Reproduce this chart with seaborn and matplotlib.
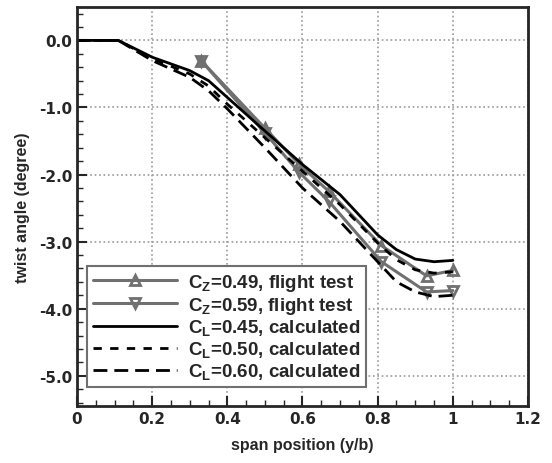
import matplotlib
matplotlib.use("Agg")
import matplotlib.pyplot as plt
from matplotlib.ticker import MultipleLocator, FormatStrFormatter
import seaborn as sns
import pandas as pd

# flight test points
x_test = [0.33, 0.5, 0.59, 0.67, 0.81, 0.93, 1.0]
cz049 = [-0.30, -1.31, -1.84, -2.25, -3.06, -3.51, -3.43]
cz059 = [-0.30, -1.38, -1.96, -2.40, -3.30, -3.75, -3.73]

# calculated curves
x_calc = [0.0, 0.11, 0.2, 0.3, 0.35, 0.4, 0.5, 0.6, 0.7, 0.8, 0.85, 0.9, 0.95, 1.0]
cl045 = [0.0, 0.0, -0.25, -0.45, -0.6, -0.85, -1.35, -1.85, -2.3, -2.9, -3.12, -3.26, -3.3, -3.28]
cl050 = [0.0, 0.0, -0.27, -0.5, -0.68, -0.95, -1.45, -1.95, -2.45, -3.02, -3.27, -3.42, -3.47, -3.45]
cl060 = [0.0, 0.0, -0.3, -0.55, -0.75, -1.02, -1.6, -2.2, -2.7, -3.3, -3.6, -3.75, -3.82, -3.8]

sns.set_style("ticks")
plt.rcParams["font.family"] = ["Liberation Sans", "DejaVu Sans"]
plt.rcParams["font.weight"] = "bold"
plt.rcParams["axes.unicode_minus"] = False
plt.rcParams["mathtext.default"] = "regular"

fig = plt.figure(figsize=(5.52, 4.64), dpi=100)
ax = fig.add_axes([0.1395, 0.123, 0.817, 0.860])

gray = "#707070"
dft = pd.DataFrame({"x": x_test, "a": cz049, "b": cz059})
dfc = pd.DataFrame({"x": x_calc, "a": cl045, "b": cl050, "c": cl060})

sns.lineplot(data=dft, x="x", y="a", ax=ax, color=gray, lw=2.2, marker="^", ms=7,
             mfc="none", mec=gray, mew=2, label="C$_Z$=0.49, flight test", sort=False)
sns.lineplot(data=dft, x="x", y="b", ax=ax, color=gray, lw=2.2, marker="v", ms=7,
             mfc="none", mec=gray, mew=2, label="C$_Z$=0.59, flight test", sort=False)
sns.lineplot(data=dfc, x="x", y="a", ax=ax, color="black", lw=2, label="C$_L$=0.45, calculated")
sns.lineplot(data=dfc, x="x", y="b", ax=ax, color="black", lw=2,
             label="C$_L$=0.50, calculated")
ax.lines[-1].set_dashes((3, 3))
sns.lineplot(data=dfc, x="x", y="c", ax=ax, color="black", lw=2,
             label="C$_L$=0.60, calculated")
ax.lines[-1].set_dashes((5, 2.5))

ax.set_xlim(0, 1.2)
ax.set_ylim(-5.45, 0.5)
ax.xaxis.set_major_locator(MultipleLocator(0.2))
ax.xaxis.set_minor_locator(MultipleLocator(0.05))
ax.yaxis.set_major_locator(MultipleLocator(1.0))
ax.yaxis.set_minor_locator(MultipleLocator(0.2))
ax.xaxis.set_major_formatter(lambda v, p: "0" if abs(v) < 1e-9 else ("1" if abs(v - 1) < 1e-9 else "%.1f" % v))
ax.yaxis.set_major_formatter(FormatStrFormatter("%.1f"))
ax.tick_params(which="major", direction="in", length=7, width=1.5, labelsize=11)
ax.tick_params(which="minor", direction="in", length=4, width=1)
for lab in ax.get_xticklabels() + ax.get_yticklabels():
    lab.set_fontweight("bold")
    lab.set_fontfamily("DejaVu Sans")

ax.grid(which="major", color="#999999", linestyle=":", linewidth=1.2)
for s in ax.spines.values():
    s.set_linewidth(2)
    s.set_visible(True)

ax.set_xlabel("span position (y/b)", fontsize=11.5, fontweight="bold", labelpad=8)
ax.set_ylabel("twist angle (degree)", fontsize=11.5, fontweight="bold", labelpad=6)

leg = ax.legend(loc="lower left", bbox_to_anchor=(0.022, 0.048), borderaxespad=0,
                fontsize=13.5, handlelength=4.5, handletextpad=0.6, frameon=True,
                fancybox=False, edgecolor=gray, framealpha=1, labelspacing=0.1,
                borderpad=0.3)
leg.get_frame().set_linewidth(1.5)
for t in leg.get_texts():
    t.set_fontweight("bold")

fig.savefig("out.png", dpi=100)
